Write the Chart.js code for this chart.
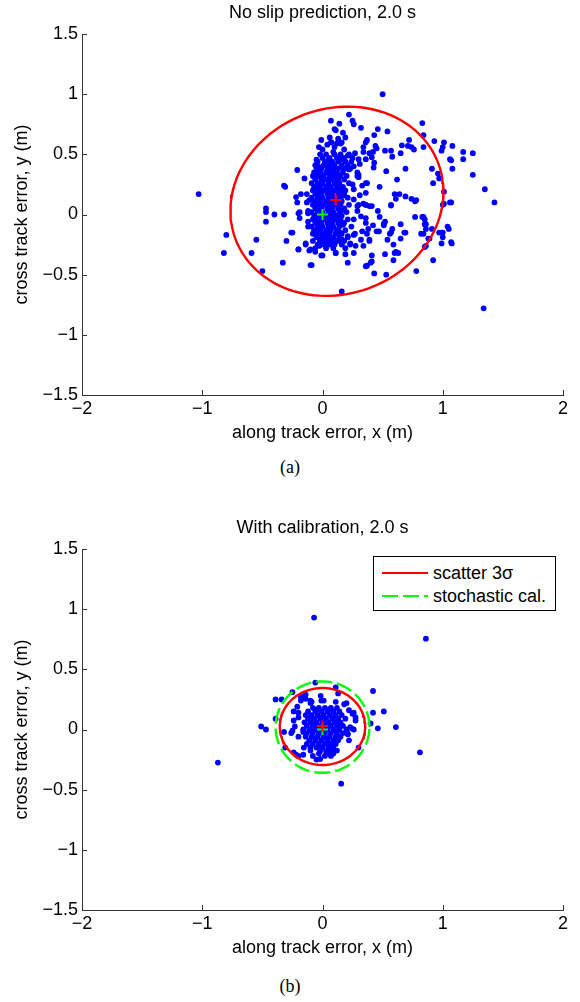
<!DOCTYPE html>
<html>
<head>
<meta charset="utf-8">
<script src="https://cdn.jsdelivr.net/npm/chart.js@4.4.0/dist/chart.umd.min.js"></script>
<style>
  body { margin: 0; background: #fff; width: 580px; height: 1002px; position: relative; overflow: hidden; }
  canvas { position: absolute; left: 0; }
  #chartA { top: 0; }
  #chartB { top: 515px; }
  .caption { position: absolute; left: 0; width: 580px; text-align: center; font-family: "Liberation Serif", "Times New Roman", serif; font-size: 18px; line-height: 22px; color: #000; }
  #legendB { position: absolute; left: 373px; top: 556px; width: 183px; height: 55px; box-sizing: border-box; border: 1px solid #000; background: #fff; font-family: "Liberation Sans", Arial, sans-serif; font-size: 18px; color: #000; }
  #legendB svg { position: absolute; left: 7px; top: 0; }
  #legendB span { position: absolute; left: 59px; line-height: 22px; white-space: nowrap; }
</style>
</head>
<body>
<canvas id="chartA" width="580" height="455"></canvas>
<canvas id="chartB" width="580" height="455"></canvas>
<div class="caption" style="top:456px">(a)</div>
<div class="caption" style="top:975px">(b)</div>
<div id="legendB">
  <svg width="48" height="53">
    <line x1="1" y1="16" x2="47" y2="16" stroke="#ff0000" stroke-width="2"/>
    <line x1="1" y1="39" x2="47" y2="39" stroke="#00ff00" stroke-width="2" stroke-dasharray="16 5"/>
  </svg>
  <span style="top:5px">scatter 3σ</span>
  <span style="top:28px">stochastic cal.</span>
</div>
<script>
document.addEventListener('DOMContentLoaded', function() {

    // axis ranges / ticks
    const xRange = [-2, 2];
    const yRange = [-1.5, 1.5];
    const xStep = 1;
    const yStep = 0.5;

    // (a) no slip prediction: scattered final positions (x, y) in m
    const noSlipPoints = [
        [-1.03,0.17],[-0.80,-0.17],[-0.82,-0.32],[-0.59,-0.32],[-0.55,-0.21],[-0.50,-0.47],[0.50,1.00],[1.43,0.10],
        [1.35,0.21],[1.34,-0.78],[0.16,-0.64],[-0.33,-0.40],[-0.10,-0.42],[0.21,-0.40],[0.36,-0.43],[0.40,-0.40],
        [0.43,-0.49],[0.53,-0.50],[0.41,-0.34],[0.52,-0.33],[0.60,-0.32],[0.63,-0.32],[0.78,-0.47],[0.92,-0.38],
        [1.07,-0.23],[0.99,-0.24],[1.00,-0.19],[0.99,-0.15],[1.04,-0.10],[1.05,-0.12],[0.88,-0.20],[0.86,-0.26],
        [0.82,-0.16],[0.86,-0.08],[0.84,-0.02],[0.77,-0.02],[0.85,-0.04],[0.91,-0.12],[1.07,0.10],[1.01,0.09],
        [1.01,0.19],[0.92,0.26],[0.96,0.34],[0.97,0.30],[0.91,0.38],[1.08,0.38],[1.25,0.33],[1.17,0.46],
        [1.17,0.52],[1.25,0.51],[1.06,0.46],[1.07,0.45],[1.00,0.56],[0.99,0.53],[1.01,0.60],[1.08,0.57],
        [0.93,0.61],[0.84,0.66],[0.83,0.76],[0.72,0.62],[0.71,0.57],[0.74,0.56],[0.76,0.54],[0.84,0.56],
        [0.66,0.575],[0.65,0.51],[0.57,0.53],[0.58,0.48],[0.52,0.53],[0.54,0.69],[0.46,0.71],[0.43,0.66],
        [0.44,0.57],[0.45,0.55],[0.42,0.52],[0.39,0.51],[0.41,0.475],[0.34,0.52],[0.36,0.60],[0.34,0.56],
        [0.37,0.62],[0.425,0.39],[0.53,0.36],[0.69,0.38],[0.62,0.29],[0.475,0.23],[0.36,0.26],[0.31,0.16],
        [0.36,0.18],[0.41,0.07],[0.29,0.32],[0.60,0.17],[0.64,0.17],[0.61,0.13],[0.69,0.15],[0.74,0.13],
        [0.78,0.12],[0.57,0.08],[0.46,0.03],[0.475,-0.02],[0.51,-0.075],[0.51,-0.09],[0.52,-0.06],[0.42,-0.09],
        [0.38,-0.12],[0.45,-0.14],[0.47,-0.14],[0.56,-0.16],[0.65,-0.08],[0.69,-0.15],[0.65,-0.20],[0.54,-0.21],
        [0.39,-0.21],[0.34,-0.26],[0.26,-0.32],[0.11,-0.32],[0.19,-0.33],[0.00,-0.34],[-0.06,-0.31],[-0.10,-0.29],
        [-0.14,-0.25],[-0.20,-0.29],[-0.30,-0.22],[-0.26,-0.15],[-0.25,-0.15],[-0.47,-0.06],[-0.47,0.02],[-0.47,0.05],
        [-0.40,0.00],[-0.32,0.00],[-0.32,0.24],[-0.31,0.23],[-0.21,0.37],[-0.15,0.30],[-0.22,0.145],[-0.21,0.10],
        [-0.18,0.17],[-0.13,0.17],[-0.19,-0.03],[-0.19,0.02],[-0.12,0.03],[-0.12,0.01],[-0.11,0.12],[-0.12,-0.06],
        [-0.12,-0.10],[-0.09,-0.42],[-0.01,-0.34],[-0.025,-0.26],[0.04,-0.23],[0.11,-0.32],[-0.20,0.01],[-0.13,0.10],
        [-0.20,-0.29],[-0.14,-0.24],[-0.11,-0.30],[0.57,0.075],[0.36,0.08],[0.39,0.07],[0.77,0.11],[1.06,0.10],
        [1.00,0.08],[0.29,0.07],[0.34,0.09],[0.37,-0.16],[0.39,-0.22],[0.59,-0.38],[0.61,-0.31],[0.59,-0.25],
        [0.57,-0.15],[0.68,-0.15],[0.58,-0.12],[0.36,-0.03],[0.37,-0.425],[0.41,-0.39],[0.83,-0.02],[0.85,-0.08],
        [0.86,-0.12],[0.84,-0.16],[0.89,-0.20],[0.85,-0.27],[0.97,-0.15],[1.00,-0.15],[1.075,-0.24],
        // upper tail of the cluster
        [0.22,0.83],[0.07,0.78],[0.14,0.755],[0.25,0.78],[0.26,0.75],[0.32,0.72],[0.11,0.70],[0.17,0.68],
        [0.19,0.64],[0.15,0.59],[0.07,0.60],[0.12,0.59],[0.18,0.54],[0.00,0.54],[0.09,0.52],[0.21,0.49],
        [0.27,0.51],[0.36,0.46],[0.30,0.46],[0.26,0.40],[0.29,0.35],[0.22,0.375],[0.10,0.71],[0.075,0.60],
        [0.31,0.42],[0.30,0.33],[0.30,0.31],[0.43,0.43],[0.37,0.26],
        // right side of the cluster
        [0.26,0.21],[0.25,0.25],[0.33,0.24],[0.26,0.125],[0.30,0.08],[0.36,0.08],[0.29,0.03],[0.32,-0.015],
        [0.26,-0.04],[0.36,-0.07],[0.33,-0.14],[0.26,-0.17],[0.32,-0.21],[0.21,-0.18],[0.275,-0.26],[0.23,-0.24],
        [0.16,-0.24],[0.10,-0.24],[0.04,-0.25],[-0.03,-0.25],
        // dense core
        [-0.03,0.56],[0.04,0.58],[0.10,0.56],[0.16,0.60],[-0.01,0.62],[0.06,0.64],[0.13,0.63],
        [-0.02,0.50],[0.03,0.50],[0.10,0.50],[0.15,0.50],[0.22,0.50],
        [0.00,0.47],[0.06,0.47],[0.12,0.47],[0.18,0.47],[0.25,0.47],
        [-0.04,0.44],[0.02,0.44],[0.08,0.44],[0.13,0.44],[0.19,0.44],[0.24,0.44],
        [-0.06,0.41],[0.01,0.41],[0.05,0.41],[0.10,0.41],[0.16,0.41],[0.21,0.41],
        [-0.05,0.38],[-0.01,0.38],[0.04,0.38],[0.09,0.38],[0.13,0.38],[0.18,0.38],[0.23,0.38],
        [-0.07,0.35],[-0.02,0.35],[0.03,0.35],[0.07,0.35],[0.12,0.35],[0.17,0.35],
        [-0.08,0.32],[-0.03,0.32],[0.01,0.32],[0.06,0.32],[0.11,0.32],[0.15,0.32],[0.20,0.32],
        [-0.06,0.29],[-0.01,0.29],[0.04,0.29],[0.08,0.29],[0.13,0.29],[0.18,0.29],
        [-0.09,0.26],[-0.04,0.26],[0.00,0.26],[0.05,0.26],[0.10,0.26],[0.14,0.26],[0.22,0.26],
        [-0.07,0.23],[-0.02,0.23],[0.03,0.23],[0.07,0.23],[0.12,0.23],[0.17,0.23],
        [-0.08,0.20],[-0.03,0.20],[0.01,0.20],[0.06,0.20],[0.10,0.20],[0.15,0.20],[0.19,0.20],
        [-0.06,0.17],[-0.01,0.17],[0.04,0.17],[0.08,0.17],[0.13,0.17],[0.18,0.17],
        [-0.09,0.14],[-0.04,0.14],[0.00,0.14],[0.05,0.14],[0.09,0.14],[0.14,0.14],[0.21,0.14],
        [-0.07,0.11],[-0.02,0.11],[0.03,0.11],[0.07,0.11],[0.12,0.11],[0.16,0.11],
        [-0.08,0.08],[-0.03,0.08],[0.01,0.08],[0.06,0.08],[0.10,0.08],[0.15,0.08],[0.22,0.08],
        [-0.06,0.05],[-0.01,0.05],[0.04,0.05],[0.08,0.05],[0.13,0.05],[0.18,0.05],
        [-0.09,0.02],[-0.04,0.02],[0.00,0.02],[0.05,0.02],[0.09,0.02],[0.14,0.02],[0.20,0.02],
        [-0.07,-0.01],[-0.02,-0.01],[0.03,-0.01],[0.07,-0.01],[0.11,-0.01],[0.16,-0.01],
        [-0.08,-0.04],[-0.03,-0.04],[0.01,-0.04],[0.06,-0.04],[0.10,-0.04],[0.15,-0.04],[0.21,-0.04],
        [-0.06,-0.07],[-0.01,-0.07],[0.04,-0.07],[0.08,-0.07],[0.13,-0.07],[0.18,-0.07],
        [-0.09,-0.10],[-0.04,-0.10],[0.00,-0.10],[0.05,-0.10],[0.09,-0.10],[0.14,-0.10],[0.24,-0.10],
        [-0.07,-0.13],[-0.02,-0.13],[0.03,-0.13],[0.07,-0.13],[0.12,-0.13],[0.19,-0.13],
        [-0.08,-0.16],[-0.03,-0.16],[0.01,-0.16],[0.06,-0.16],[0.11,-0.16],[0.16,-0.16],[0.27,-0.16],
        [-0.05,-0.19],[0.00,-0.19],[0.04,-0.19],[0.09,-0.19],[0.14,-0.19],[0.21,-0.19],
        [-0.08,-0.22],[-0.02,-0.22],[0.02,-0.22],[0.07,-0.22],[0.12,-0.22],[0.18,-0.22],
        [-0.04,-0.25],[0.01,-0.25],[0.06,-0.25],[0.10,-0.25],[0.16,-0.25],[0.23,-0.25],
        [-0.06,-0.28],[0.03,-0.28],[0.09,-0.28],[0.19,-0.28],
        // fill-in between core rows
        [-0.05,0.455],[0.05,0.455],[0.15,0.455],[-0.03,0.395],[0.07,0.395],[0.16,0.395],[-0.05,0.335],[0.09,0.335],
        [0.00,0.275],[0.11,0.275],[-0.05,0.215],[0.04,0.215],[0.13,0.215],[-0.03,0.155],[0.07,0.155],[0.17,0.155],
        [-0.05,0.095],[0.05,0.095],[0.13,0.095],[-0.02,0.035],[0.07,0.035],[0.16,0.035],[-0.05,-0.025],[0.05,-0.025],
        [0.13,-0.025],[-0.03,-0.085],[0.07,-0.085],[0.17,-0.085],[-0.05,-0.145],[0.04,-0.145],[0.14,-0.145],
        [-0.02,-0.205],[0.07,-0.205],[0.16,-0.205]
    ];
    const noSlipMean = [0.11, 0.12];
    const noSlipOrigin = [0, 0];
    // 3 sigma ellipse: centre x, centre y, semi-axis a, semi-axis b, tilt (rad)
    const noSlipEllipse = [0.12, 0.11, 0.90, 0.77, 0.35];

    // (b) with calibration
    const calPoints = [
        [-0.07,0.93],[0.86,0.755],[-0.87,-0.275],[0.155,-0.45],[0.81,-0.19],[0.61,0.02],[0.46,0.01],[0.51,0.15],
        [0.42,0.32],[0.42,0.14],[0.40,0.05],[0.30,-0.15],[-0.51,0.025],[-0.47,0.00],[-0.39,0.25],[-0.34,0.25],
        [-0.39,0.09],[-0.25,0.31],[-0.32,-0.02],[-0.26,-0.03],[-0.31,-0.15],[-0.24,-0.19],[-0.22,-0.21],[-0.20,-0.22],
        [-0.16,-0.21],[-0.05,-0.25],[-0.06,0.39],[0.11,0.35],[0.13,0.30],[-0.18,0.27],[-0.15,0.28],[-0.14,0.29],
        [-0.24,0.15],[-0.20,0.10],[-0.23,0.025],[-0.20,-0.06],[-0.10,0.24],[-0.10,0.22],[-0.015,0.28],[-0.01,0.24],
        [-0.18,0.24],[-0.14,0.255],[-0.09,0.23],[0.01,0.24],[0.11,0.23],[0.18,0.21],[0.26,0.14],[0.275,0.075],
        [0.23,0.02],[0.21,-0.035],[0.22,-0.09],[0.12,-0.175],[0.09,-0.20],[0.04,-0.20],[-0.02,-0.245],[-0.10,-0.175],
        [-0.155,-0.15],[-0.25,-0.01],[-0.24,0.075],[-0.20,0.14],[-0.21,0.19],[0.20,0.22],[0.22,0.16],[0.25,0.13],
        [0.275,0.10],[0.24,0.01],[0.26,0.00],[0.21,-0.04],[0.12,-0.09],[0.08,-0.17],[0.07,-0.22],[-0.03,-0.20],
        [-0.10,-0.15],[-0.13,-0.12],[-0.16,-0.02],[-0.08,-0.22],[0.02,-0.22],
        // dense core
        [-0.08,0.18],[-0.03,0.18],[0.02,0.18],[0.07,0.18],[0.12,0.18],
        [-0.12,0.15],[-0.06,0.15],[-0.01,0.15],[0.04,0.15],[0.09,0.15],[0.14,0.15],
        [-0.14,0.12],[-0.09,0.12],[-0.04,0.12],[0.01,0.12],[0.06,0.12],[0.11,0.12],[0.16,0.12],
        [-0.12,0.09],[-0.07,0.09],[-0.02,0.09],[0.03,0.09],[0.08,0.09],[0.13,0.09],[0.19,0.09],
        [-0.15,0.06],[-0.10,0.06],[-0.05,0.06],[0.00,0.06],[0.05,0.06],[0.10,0.06],[0.15,0.06],
        [-0.13,0.03],[-0.08,0.03],[-0.03,0.03],[0.02,0.03],[0.07,0.03],[0.12,0.03],[0.17,0.03],
        [-0.16,0.00],[-0.11,0.00],[-0.06,0.00],[-0.01,0.00],[0.04,0.00],[0.09,0.00],[0.14,0.00],[0.20,0.00],
        [-0.13,-0.03],[-0.08,-0.03],[-0.03,-0.03],[0.02,-0.03],[0.07,-0.03],[0.12,-0.03],[0.17,-0.03],
        [-0.14,-0.06],[-0.09,-0.06],[-0.04,-0.06],[0.01,-0.06],[0.06,-0.06],[0.11,-0.06],[0.15,-0.06],
        [-0.11,-0.09],[-0.06,-0.09],[-0.01,-0.09],[0.04,-0.09],[0.09,-0.09],[0.13,-0.09],
        [-0.08,-0.12],[-0.03,-0.12],[0.02,-0.12],[0.07,-0.12],[0.11,-0.12],
        [-0.05,-0.15],[0.00,-0.15],[0.05,-0.15],[0.09,-0.15],
        [-0.02,-0.18],[0.03,-0.18],[0.07,-0.18],
        // fill-in between core rows
        [-0.05,0.165],[0.05,0.165],[-0.10,0.105],[0.00,0.105],[0.10,0.105],[-0.07,0.045],[0.03,0.045],[0.13,0.045],
        [-0.09,-0.015],[0.01,-0.015],[0.11,-0.015],[-0.06,-0.075],[0.04,-0.075],[0.12,-0.075],[-0.03,-0.135],[0.05,-0.135]
    ];
    const calMean = [0.0, 0.03];
    const calOrigin = [0, 0];
    const calScatterEllipse = [0.0, 0.025, 0.355, 0.32, 0];
    const calStochastic = [0.0, 0.02, 0.39, 0.38, 0];

    const fontFamily = '"Liberation Sans", Arial, Helvetica, sans-serif';
    Chart.defaults.font.family = fontFamily;
    Chart.defaults.font.size = 18;
    Chart.defaults.color = '#000';

    function toXY(list) {
        return list.map(p => ({ x: p[0], y: p[1] }));
    }

    // outline of an ellipse given [cx, cy, a, b, tilt]
    function ellipseOutline(e) {
        const [cx, cy, a, b, t] = e;
        const pts = [];
        for (let i = 0; i <= 120; i++) {
            const u = (i / 120) * 2 * Math.PI;
            const ex = a * Math.cos(u), ey = b * Math.sin(u);
            pts.push({ x: cx + ex * Math.cos(t) - ey * Math.sin(t), y: cy + ex * Math.sin(t) + ey * Math.cos(t) });
        }
        return pts;
    }

    function fmtTick(v) {
        return v < 0 ? '\u2212' + Math.abs(v) : String(v);
    }

    // MATLAB style ticks pointing into the axes
    const inwardTicks = {
        id: 'inwardTicks',
        afterDraw(chart) {
            const { ctx, chartArea: area, scales } = chart;
            ctx.save();
            ctx.strokeStyle = '#333';
            ctx.lineWidth = 1;
            ctx.beginPath();
            scales.x.ticks.forEach(t => {
                const px = Math.round(scales.x.getPixelForValue(t.value)) + 0.5;
                ctx.moveTo(px, area.bottom);
                ctx.lineTo(px, area.bottom - 5);
            });
            scales.y.ticks.forEach(t => {
                const py = Math.round(scales.y.getPixelForValue(t.value)) + 0.5;
                ctx.moveTo(area.left, py);
                ctx.lineTo(area.left + 5, py);
            });
            ctx.stroke();
            ctx.restore();
        }
    };

    function crearGrafico(id, titulo, datasets) {
        return new Chart(document.getElementById(id), {
            type: 'scatter',
            data: { datasets: datasets },
            options: {
                responsive: false,
                animation: false,
                events: [],
                layout: { padding: { left: 0, right: 17, top: 0, bottom: 0 } },
                plugins: {
                    legend: { display: false },
                    tooltip: { enabled: false },
                    title: {
                        display: true,
                        text: titulo,
                        fullSize: false,
                        color: '#000',
                        font: { size: 18, weight: 'normal' },
                        padding: { top: 2, bottom: 10.4 }
                    }
                },
                scales: {
                    x: {
                        type: 'linear',
                        min: xRange[0], max: xRange[1],
                        afterFit: s => { s.height = 60; },
                        ticks: { stepSize: xStep, padding: 3, color: '#000', callback: fmtTick },
                        grid: { display: true, drawOnChartArea: false, drawTicks: false },
                        border: { display: true, color: '#333', width: 1 },
                        title: { display: true, text: 'along track error, x (m)', color: '#000', padding: { top: 0, bottom: 11.2 } }
                    },
                    y: {
                        type: 'linear',
                        min: yRange[0], max: yRange[1],
                        afterFit: s => { s.width = 82; },
                        ticks: { stepSize: yStep, padding: 4, color: '#000', callback: fmtTick },
                        grid: { display: true, drawOnChartArea: false, drawTicks: false },
                        border: { display: true, color: '#333', width: 1 },
                        title: { display: true, text: 'cross track error, y (m)', color: '#000', padding: { top: 11, bottom: 0 } }
                    }
                }
            },
            plugins: [inwardTicks]
        });
    }

    function dots(list) {
        return { data: toXY(list), pointRadius: 2.9, pointBackgroundColor: '#0000ff', pointBorderWidth: 0, showLine: false, order: 3 };
    }
    function cross(p, color) {
        return { data: toXY([p]), pointStyle: 'cross', pointRadius: 5.5, pointBorderColor: color, pointBorderWidth: 2, showLine: false, order: 0 };
    }
    function ring(e, color, dash) {
        return { data: ellipseOutline(e), showLine: true, borderColor: color, borderWidth: 2.4, borderDash: dash, pointRadius: 0, tension: 0, fill: false, order: 1 };
    }

    crearGrafico('chartA', 'No slip prediction, 2.0 s', [
        cross(noSlipMean, '#ff0000'),
        cross(noSlipOrigin, '#00ff00'),
        ring(noSlipEllipse, '#ff0000', []),
        dots(noSlipPoints)
    ]);

    crearGrafico('chartB', 'With calibration, 2.0 s', [
        cross(calMean, '#ff0000'),
        cross(calOrigin, '#00ff00'),
        ring(calScatterEllipse, '#ff0000', []),
        ring(calStochastic, '#00ff00', [16, 5]),
        dots(calPoints)
    ]);
});
</script>
</body>
</html>
